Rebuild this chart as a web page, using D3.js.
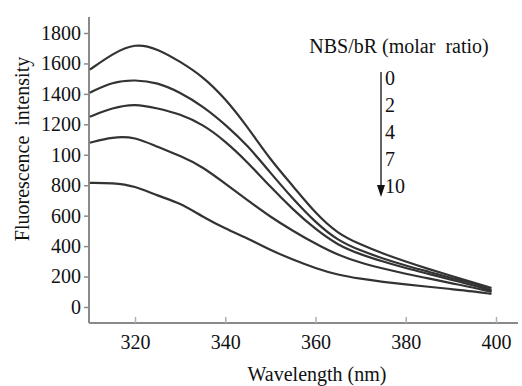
<!DOCTYPE html>
<html><head><meta charset="utf-8">
<script src="https://cdn.jsdelivr.net/npm/d3@7"></script>
</head>
<body style="margin:0;background:#fff">
<svg id="c" width="522" height="386" font-family="Liberation Serif" style="display:block"></svg>
<script>
const wavelengths = [310,315,320,325,330,335,340,345,350,355,360,365,370,375,380,385,390,395,399];
const ratio0  = [1559,1664,1734,1697,1612,1515,1370,1180,967,795,615,480,410,350,298,250,205,162,125];
const ratio2  = [1408,1480,1493,1475,1410,1320,1200,1060,882,710,555,435,370,318,272,232,192,155,112];
const ratio4  = [1250,1309,1336,1305,1268,1200,1090,950,789,640,510,405,345,298,255,218,180,143,105];
const ratio7  = [1079,1118,1118,1050,995,921,810,700,592,500,415,340,290,252,218,188,157,128,99];
const ratio10 = [816,816,796,730,684,592,515,450,375,310,255,210,185,165,148,133,118,103,86];
const seriesNames = ["0","2","4","7","10"];
const seriesValues = [ratio0, ratio2, ratio4, ratio7, ratio10];
const xTicks = [320,340,360,380,400];
const yTicks = [0,200,400,600,800,1000,1200,1400,1600,1800];
const yTickLabels = ["0","200","400","600","800","100","1200","1400","1600","1800"];
const xTitle = "Wavelength (nm)";
const yTitle = "Fluorescence\u00a0\u00a0intensity";
const legendTitle = "NBS/bR (molar\u00a0\u00a0ratio)";

const FONT = "Liberation Serif";
const svg = d3.select("#c");
const x = d3.scaleLinear().domain([320,400]).range([135,496]);
const y = d3.scaleLinear().domain([0,1800]).range([307,33]);
const xExt = [x.invert(89), x.invert(518)];
const yExt = [y.invert(323), y.invert(17)];
const axisColor = "#8a8a8a";

svg.append("line").attr("x1",x(xExt[0])).attr("x2",x(xExt[1])).attr("y1",y(yExt[0])).attr("y2",y(yExt[0]))
  .attr("stroke",axisColor).attr("stroke-width",2);
svg.append("line").attr("x1",x(xExt[0])).attr("x2",x(xExt[0])).attr("y1",y(yExt[0])).attr("y2",y(yExt[1]))
  .attr("stroke",axisColor).attr("stroke-width",2);

const yAxis = d3.axisLeft(y).tickValues(yTicks).tickSize(5).tickPadding(3)
  .tickFormat((d,i)=>yTickLabels[i]);
const gy = svg.append("g").attr("transform",`translate(${x(xExt[0])},0)`).call(yAxis)
  .attr("font-family",FONT).attr("font-size",20);
gy.select(".domain").remove();
gy.selectAll(".tick line").attr("stroke",axisColor).attr("stroke-width",1.5);
gy.selectAll(".tick text").attr("font-family",FONT).attr("font-size",20).attr("fill","#111");

const xAxis = d3.axisBottom(x).tickValues(xTicks).tickSize(-6).tickPadding(12).tickFormat(d3.format("d"));
const gx = svg.append("g").attr("transform",`translate(0,${y(yExt[0])})`).call(xAxis)
  .attr("font-family",FONT).attr("font-size",20);
gx.select(".domain").remove();
gx.selectAll(".tick line").attr("stroke","#b0b0b0").attr("stroke-width",1.5);
gx.selectAll(".tick text").attr("font-family",FONT).attr("font-size",20).attr("fill","#111");

const line = d3.line().x((d,i)=>x(wavelengths[i])).y(d=>y(d)).curve(d3.curveBasis);
svg.append("g").selectAll("path").data(seriesValues).join("path")
  .attr("d",d=>line(d)).attr("fill","none").attr("stroke","#333").attr("stroke-width",2.2);

function txt(sel){ return sel.attr("font-family",FONT).attr("font-size",20).attr("fill","#111"); }
txt(svg.append("text").attr("x",317).attr("y",381).attr("text-anchor","middle")).text(xTitle);
txt(svg.append("text").attr("transform","translate(29,149) rotate(-90)").attr("text-anchor","middle")).text(yTitle);
txt(svg.append("text").attr("x",399).attr("y",53).attr("text-anchor","middle")).text(legendTitle);
svg.append("line").attr("x1",381).attr("x2",381).attr("y1",72).attr("y2",188).attr("stroke","#111").attr("stroke-width",1.3);
svg.append("path").attr("d","M377,185 L385,185 L381,197 Z").attr("fill","#111");
txt(svg.append("g").selectAll("text").data(seriesNames).join("text")
  .attr("x",385).attr("y",(d,i)=>85+i*27)).text(d=>d);
</script>
</body></html>
